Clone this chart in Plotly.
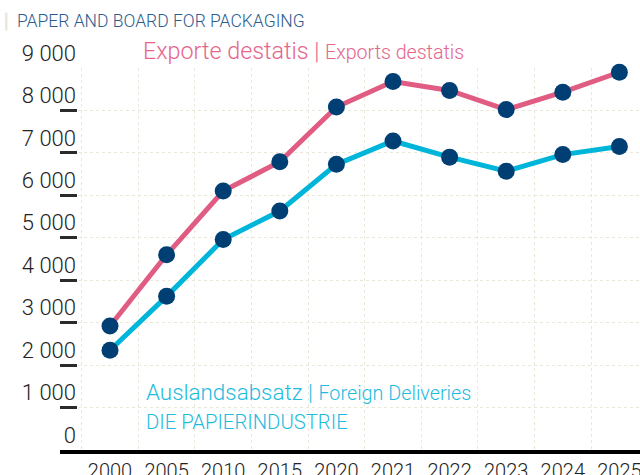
import plotly.graph_objects as go

years = ["2000", "2005", "2010", "2015", "2020", "2021", "2022", "2023", "2024", "2025"]
exports_destatis = [2920, 4600, 6100, 6790, 8080, 8680, 8470, 8020, 8430, 8900]
foreign_deliveries = [2350, 3620, 4960, 5630, 6730, 7280, 6900, 6570, 6960, 7150]
y_ticks = [0, 1000, 2000, 3000, 4000, 5000, 6000, 7000, 8000, 9000]

PINK = "#e05c82"
CYAN = "#00b5da"
NAVY = "#003f73"
FONT = "Roboto"
WT = 300

fig = go.Figure()
fig.add_trace(go.Scatter(
    x=years, y=foreign_deliveries, mode="lines+markers",
    line=dict(color=CYAN, width=5),
    marker=dict(color=NAVY, size=17),
    cliponaxis=False, showlegend=False))
fig.add_trace(go.Scatter(
    x=years, y=exports_destatis, mode="lines+markers",
    line=dict(color=PINK, width=5),
    marker=dict(color=NAVY, size=17),
    cliponaxis=False, showlegend=False))

W, H = 640, 475
ML, MR, MT, MB = 60, 0, 67.5, 25
PW, PH = W - ML - MR, H - MT - MB

def px(xp):
    return (xp - ML) / PW

def py(yp):
    return (H - MB - yp) / PH

step = 56.6
x0 = -50 / step
fig.update_xaxes(
    type="category", range=[x0, x0 + PW / step],
    tickson="boundaries", ticks="", automargin=False,
    showgrid=True, gridcolor="#ebe8da", gridwidth=1, griddash="dot",
    showline=True, linecolor="#000000", linewidth=3.5,
    tickfont=dict(family=FONT, size=20, color="#222222", weight=WT),
    fixedrange=True)
fig.update_yaxes(
    range=[0, 9000], tickvals=y_ticks, tickformat=",d", automargin=False,
    ticks="inside", ticklen=17, tickwidth=2.5, tickcolor="#2b2b2b",
    ticklabelstandoff=-17, ticklabelshift=-15,
    showgrid=True, gridcolor="#ebe8da", gridwidth=1, griddash="dot",
    zeroline=False, showline=False,
    tickfont=dict(family=FONT, size=22, color="#222222", weight=WT),
    fixedrange=True)

annotations = [
    dict(text="PAPER AND BOARD FOR PACKAGING", x=px(15), y=py(20),
         font=dict(family=FONT, size=17.5, color="#2d5d8f", weight=WT)),
    dict(text="Exporte destatis | <span style='font-size:19.6px'>Exports destatis</span>",
         x=px(141), y=py(50), font=dict(family=FONT, size=23.3, color="#e5658c", weight=WT)),
    dict(text="Auslandsabsatz | <span style='font-size:19.8px'>Foreign Deliveries</span>",
         x=px(144), y=py(392), font=dict(family=FONT, size=22.4, color="#1ebbe0", weight=WT)),
    dict(text="DIE PAPIERINDUSTRIE",
         x=px(144), y=py(422), font=dict(family=FONT, size=20.3, color="#1ebbe0", weight=WT)),
]
for a in annotations:
    a.update(xref="paper", yref="paper", xanchor="left", yanchor="middle",
             showarrow=False)

fig.update_layout(
    width=W, height=H,
    margin=dict(l=ML, r=MR, t=MT, b=MB, pad=0),
    paper_bgcolor="#ffffff", plot_bgcolor="#ffffff",
    separators=". ",
    annotations=annotations,
    shapes=[dict(type="rect", xref="paper", yref="paper",
                 x0=px(5), x1=px(7.5), y0=py(30), y1=py(12),
                 fillcolor="#ece7d8", line=dict(width=0), layer="below")],
)

fig.write_html("out.html", config={"displayModeBar": False},
               post_script="document.body.style.margin='0';document.body.style.overflow='hidden';")
